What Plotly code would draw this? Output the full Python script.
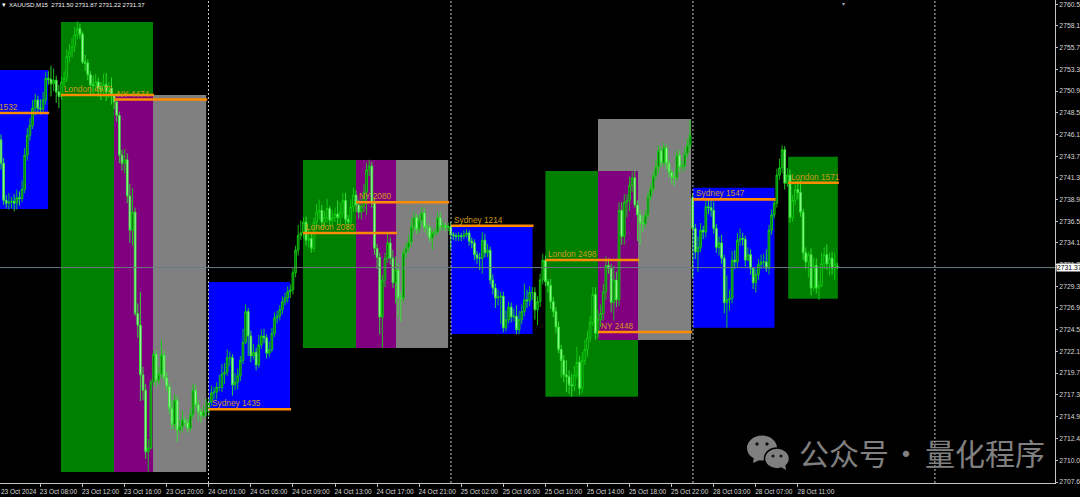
import plotly.graph_objects as go

bar_open = [
2745.5,2742.9,2738.8,2738.5,2738.6,2738.7,2738.5,2739.1,2739.0,2740.0,
2743.8,2746.0,2747.1,2749.0,2749.9,2749.0,2748.9,2749.9,2752.3,2752.2,
2751.7,2752.1,2750.8,2750.3,2751.9,2752.3,2754.7,2755.2,2755.8,2757.1,
2757.8,2757.2,2754.1,2754.0,2752.7,2751.6,2751.5,2751.9,2751.2,2751.0,
2751.6,2750.8,2751.2,2750.5,2749.7,2748.2,2743.8,2742.9,2743.3,2739.3,
2735.5,2737.5,2726.3,2725.0,2719.5,2717.8,2711.0,2711.4,2718.7,2721.8,
2718.9,2719.6,2721.7,2719.2,2718.2,2715.8,2714.0,2716.7,2713.4,2713.8,
2714.5,2714.2,2713.6,2715.1,2717.8,2716.2,2715.4,2715.0,2715.4,2715.5,
2716.5,2717.5,2717.6,2718.1,2718.1,2719.6,2719.8,2721.4,2721.4,2718.4,
2718.7,2719.4,2721.1,2723.1,2726.5,2723.8,2721.6,2722.0,2720.6,2722.8,
2723.8,2723.6,2721.9,2722.3,2724.1,2725.8,2726.0,2726.7,2727.6,2728.0,
2728.7,2728.9,2730.8,2733.3,2734.9,2735.2,2736.4,2734.4,2734.6,2733.5,
2736.4,2737.5,2737.7,2736.4,2736.9,2737.9,2736.6,2736.9,2737.3,2736.9,
2737.5,2738.8,2736.7,2736.4,2738.1,2739.4,2738.3,2737.5,2738.2,2739.7,
2742.2,2742.6,2738.5,2733.5,2732.5,2725.9,2730.0,2732.4,2734.1,2732.4,
2729.7,2731.1,2728.0,2728.0,2733.0,2733.6,2734.2,2735.9,2736.9,2735.6,
2736.6,2737.4,2735.8,2735.8,2734.6,2735.2,2735.3,2736.9,2735.9,2736.0,
2735.8,2735.9,2735.0,2734.9,2734.8,2734.9,2734.8,2735.0,2735.2,2734.3,
2734.1,2732.8,2732.4,2732.4,2734.4,2733.0,2733.3,2730.0,2729.1,2728.0,
2728.1,2728.2,2724.7,2725.6,2727.0,2725.9,2726.0,2724.5,2725.6,2726.5,
2727.8,2727.7,2728.6,2728.6,2726.7,2727.6,2730.0,2732.2,2729.8,2729.4,
2727.6,2726.5,2724.8,2722.3,2721.1,2719.5,2719.3,2718.4,2718.3,2719.5,
2720.9,2718.0,2721.1,2722.3,2723.6,2725.3,2728.4,2724.1,2725.6,2726.3,
2728.7,2731.6,2731.3,2727.5,2730.0,2727.8,2737.7,2734.8,2738.6,2738.8,
2740.5,2741.3,2738.3,2737.2,2736.3,2736.2,2737.2,2739.2,2740.1,2741.5,
2742.5,2744.3,2743.0,2744.6,2742.9,2741.9,2741.4,2741.3,2743.8,2742.5,
2742.6,2744.0,2744.9,2739.1,2735.7,2733.1,2733.6,2735.5,2735.3,2738.1,
2738.0,2737.7,2735.7,2733.6,2734.1,2732.4,2727.5,2727.8,2728.0,2732.2,
2732.0,2734.4,2734.6,2734.5,2732.2,2732.8,2731.3,2729.7,2730.6,2731.7,
2732.0,2732.0,2731.3,2735.5,2737.2,2738.5,2741.6,2742.4,2744.4,2740.7,
2741.6,2736.9,2738.8,2740.0,2739.7,2737.5,2733.0,2732.0,2732.8,2729.1,
2731.6,2729.1,2729.4,2731.8,2732.8,2731.8,2732.4,2731.3,2731.50]

bar_high = [
2746.1,2743.5,2739.4,2739.6,2739.2,2739.5,2740.0,2739.8,2741.0,2744.6,
2746.8,2747.9,2749.9,2750.6,2750.4,2750.0,2750.8,2753.0,2753.1,2753.7,
2753.4,2752.6,2751.6,2752.5,2753.1,2755.5,2756.1,2756.8,2758.0,2758.6,
2758.3,2757.5,2754.9,2754.4,2753.1,2752.6,2752.8,2752.4,2751.9,2752.8,
2752.9,2751.9,2752.4,2750.6,2749.9,2748.6,2744.4,2744.5,2744.0,2740.6,
2740.2,2738.0,2727.4,2728.7,2720.4,2718.5,2712.4,2719.0,2722.2,2722.2,
2720.4,2723.4,2722.2,2719.8,2718.6,2716.6,2717.4,2717.2,2714.6,2715.5,
2714.9,2714.6,2715.8,2718.5,2718.4,2716.8,2715.8,2716.2,2716.9,2717.0,
2718.3,2718.2,2718.7,2719.5,2720.7,2720.8,2722.3,2722.1,2721.8,2719.7,
2720.2,2721.6,2724.6,2727.3,2726.9,2724.4,2722.9,2722.5,2723.9,2724.5,
2724.6,2724.0,2723.2,2724.7,2726.4,2726.6,2727.2,2728.2,2728.6,2729.3,
2729.5,2731.3,2733.8,2736.1,2736.6,2736.9,2737.0,2735.6,2735.2,2736.9,
2738.4,2738.9,2738.3,2737.7,2739.0,2738.2,2737.7,2738.0,2738.8,2738.6,
2739.6,2739.6,2737.2,2738.9,2740.2,2739.9,2738.9,2739.0,2740.6,2743.0,
2743.3,2743.1,2739.0,2734.0,2733.0,2730.6,2733.0,2735.2,2734.7,2733.3,
2732.6,2731.8,2728.7,2733.4,2734.1,2735.0,2736.8,2737.6,2737.3,2737.3,
2738.1,2737.9,2736.3,2736.1,2735.7,2735.7,2737.6,2737.5,2736.5,2736.3,
2736.3,2736.4,2735.3,2735.2,2735.3,2735.2,2735.5,2735.6,2735.5,2734.7,
2734.5,2733.2,2733.0,2735.3,2735.1,2734.0,2733.7,2730.6,2729.6,2728.9,
2728.7,2728.7,2726.6,2727.6,2727.5,2726.8,2727.2,2726.6,2727.3,2729.6,
2728.9,2729.3,2729.2,2729.2,2728.2,2730.7,2732.9,2732.7,2730.1,2730.1,
2728.1,2727.0,2725.4,2722.8,2721.7,2721.1,2720.0,2719.6,2720.5,2722.6,
2721.6,2722.0,2723.4,2724.4,2726.0,2729.2,2729.2,2726.7,2727.3,2729.6,
2732.6,2732.4,2731.8,2731.6,2730.9,2738.6,2738.6,2739.5,2739.5,2741.4,
2742.0,2742.1,2738.8,2737.7,2737.1,2737.7,2739.7,2740.7,2742.1,2743.3,
2744.9,2744.8,2745.2,2745.0,2743.3,2742.2,2742.0,2744.4,2744.3,2743.2,
2744.7,2745.6,2747.7,2739.6,2736.2,2734.8,2736.3,2736.0,2738.9,2738.9,
2738.9,2738.7,2736.2,2734.8,2735.0,2732.8,2730.5,2728.9,2733.2,2733.3,
2735.2,2735.7,2735.2,2734.9,2733.6,2733.4,2730.3,2731.2,2732.3,2732.8,
2732.9,2733.4,2736.1,2737.8,2739.0,2742.3,2743.4,2744.9,2744.8,2742.4,
2742.2,2739.4,2740.6,2741.0,2741.1,2737.9,2733.6,2733.1,2733.5,2732.5,
2732.4,2729.9,2733.0,2733.6,2733.9,2733.0,2733.1,2733.0,2731.87]

bar_low = [
2742.2,2738.3,2737.9,2737.8,2737.9,2737.6,2737.8,2738.2,2738.6,2739.6,
2743.2,2745.4,2746.7,2748.2,2748.4,2748.3,2748.4,2749.4,2751.6,2750.3,
2750.9,2749.6,2749.0,2749.9,2751.3,2751.9,2754.1,2754.6,2755.2,2756.6,
2756.7,2753.9,2753.1,2752.1,2750.5,2750.6,2750.8,2750.3,2749.9,2750.3,
2749.8,2750.1,2749.4,2748.9,2747.5,2742.9,2742.1,2741.8,2738.5,2734.1,
2733.8,2726.0,2723.6,2716.6,2716.7,2710.2,2708.8,2711.2,2718.3,2718.2,
2718.5,2719.2,2718.8,2717.7,2715.2,2713.5,2713.5,2712.1,2713.0,2713.2,
2713.7,2713.1,2713.3,2714.7,2715.8,2714.4,2714.2,2714.7,2714.9,2714.9,
2716.1,2716.8,2716.8,2717.7,2717.6,2718.5,2719.4,2720.5,2717.2,2717.8,
2717.9,2718.8,2720.7,2722.9,2721.6,2720.9,2721.2,2720.0,2720.3,2722.4,
2723.0,2721.3,2721.5,2722.0,2723.7,2725.2,2725.5,2726.2,2727.2,2727.5,
2728.0,2728.4,2730.3,2732.7,2734.4,2734.6,2733.8,2733.6,2733.0,2733.1,
2735.7,2736.7,2735.7,2735.8,2736.3,2735.9,2736.0,2736.4,2736.2,2736.1,
2736.9,2736.1,2735.6,2735.9,2737.5,2737.5,2736.8,2736.7,2737.5,2737.2,
2741.5,2738.0,2732.8,2731.2,2724.0,2722.5,2729.2,2731.9,2731.7,2729.1,
2727.4,2725.9,2725.4,2727.5,2732.4,2733.1,2733.7,2735.2,2735.1,2735.2,
2736.0,2735.3,2734.9,2734.2,2733.3,2734.8,2735.0,2735.4,2735.5,2735.4,
2735.4,2733.4,2734.4,2734.3,2734.3,2734.3,2734.5,2734.7,2733.8,2733.5,
2732.2,2731.8,2731.1,2730.7,2732.5,2732.5,2729.5,2728.4,2726.9,2727.2,
2725.1,2724.2,2724.3,2725.2,2725.3,2725.4,2724.0,2724.0,2725.1,2726.0,
2726.9,2727.1,2727.8,2725.6,2725.0,2727.0,2729.5,2729.3,2728.6,2726.8,
2725.9,2724.1,2721.9,2719.2,2718.7,2717.6,2717.4,2717.1,2717.7,2719.1,
2717.3,2717.5,2720.6,2721.5,2723.1,2724.9,2723.4,2723.6,2724.8,2725.5,
2727.8,2730.7,2726.4,2725.5,2727.0,2727.1,2733.9,2733.9,2736.9,2737.6,
2739.7,2738.0,2734.3,2733.9,2735.3,2735.7,2736.8,2738.8,2739.6,2741.0,
2741.8,2742.5,2742.5,2742.2,2741.3,2740.7,2740.4,2741.0,2741.9,2741.9,
2742.1,2743.5,2744.3,2730.2,2732.3,2730.9,2733.1,2734.5,2734.7,2737.3,
2737.0,2735.1,2733.0,2732.7,2731.8,2726.3,2724.7,2726.6,2727.4,2731.2,
2731.4,2733.8,2733.8,2731.5,2732.1,2730.6,2729.0,2728.6,2730.0,2731.2,
2731.3,2730.9,2730.6,2735.0,2736.8,2738.0,2741.1,2741.8,2740.0,2740.3,
2736.3,2736.4,2738.3,2738.9,2737.0,2732.2,2731.2,2730.3,2728.3,2728.8,
2728.5,2727.8,2729.2,2731.2,2731.1,2730.5,2730.6,2730.0,2731.22]

bar_close = [
2742.9,2738.8,2738.5,2738.6,2738.7,2738.5,2739.1,2739.0,2740.0,2743.8,
2746.0,2747.1,2749.0,2749.9,2749.0,2748.9,2749.9,2752.3,2752.2,2751.7,
2752.1,2750.8,2750.3,2751.9,2752.3,2754.7,2755.2,2755.8,2757.1,2757.8,
2757.2,2754.1,2754.0,2752.7,2751.6,2751.5,2751.9,2751.2,2751.0,2751.6,
2750.8,2751.2,2750.5,2749.7,2748.2,2743.8,2742.9,2743.3,2739.3,2735.5,
2737.5,2726.3,2725.0,2719.5,2717.8,2711.0,2711.4,2718.7,2721.8,2718.9,
2719.6,2721.7,2719.2,2718.2,2715.8,2714.0,2716.7,2713.4,2713.8,2714.5,
2714.2,2713.6,2715.1,2717.8,2716.2,2715.4,2715.0,2715.4,2715.5,2716.5,
2717.5,2717.6,2718.1,2718.1,2719.6,2719.8,2721.4,2721.4,2718.4,2718.7,
2719.4,2721.1,2723.1,2726.5,2723.8,2721.6,2722.0,2720.6,2722.8,2723.8,
2723.6,2721.9,2722.3,2724.1,2725.8,2726.0,2726.7,2727.6,2728.0,2728.7,
2728.9,2730.8,2733.3,2734.9,2735.2,2736.4,2734.4,2734.6,2733.5,2736.4,
2737.5,2737.7,2736.4,2736.9,2737.9,2736.6,2736.9,2737.3,2736.9,2737.5,
2738.8,2736.7,2736.4,2738.1,2739.4,2738.3,2737.5,2738.2,2739.7,2742.2,
2742.6,2738.5,2733.5,2732.5,2725.9,2730.0,2732.4,2734.1,2732.4,2729.7,
2731.1,2728.0,2728.0,2733.0,2733.6,2734.2,2735.9,2736.9,2735.6,2736.6,
2737.4,2735.8,2735.8,2734.6,2735.2,2735.3,2736.9,2735.9,2736.0,2735.8,
2735.9,2735.0,2734.9,2734.8,2734.9,2734.8,2735.0,2735.2,2734.3,2734.1,
2732.8,2732.4,2732.4,2734.4,2733.0,2733.3,2730.0,2729.1,2728.0,2728.1,
2728.2,2724.7,2725.6,2727.0,2725.9,2726.0,2724.5,2725.6,2726.5,2727.8,
2727.7,2728.6,2728.6,2726.7,2727.6,2730.0,2732.2,2729.8,2729.4,2727.6,
2726.5,2724.8,2722.3,2721.1,2719.5,2719.3,2718.4,2718.3,2719.5,2720.9,
2718.0,2721.1,2722.3,2723.6,2725.3,2728.4,2724.1,2725.6,2726.3,2728.7,
2731.6,2731.3,2727.5,2730.0,2727.8,2737.7,2734.8,2738.6,2738.8,2740.5,
2741.3,2738.3,2737.2,2736.3,2736.2,2737.2,2739.2,2740.1,2741.5,2742.5,
2744.3,2743.0,2744.6,2742.9,2741.9,2741.4,2741.3,2743.8,2742.5,2742.6,
2744.0,2744.9,2746.0,2735.7,2733.1,2733.6,2735.5,2735.3,2738.1,2738.0,
2737.7,2735.7,2733.6,2734.1,2732.4,2727.5,2727.8,2728.0,2732.2,2732.0,
2734.4,2734.6,2734.5,2732.2,2732.8,2731.3,2729.7,2730.6,2731.7,2732.0,
2732.0,2731.3,2735.5,2737.2,2738.5,2741.6,2742.4,2744.4,2740.7,2741.6,
2736.9,2738.8,2740.0,2739.7,2737.5,2733.0,2732.0,2732.8,2729.1,2731.6,
2729.1,2729.4,2731.8,2732.8,2731.8,2732.4,2731.3,2731.8,2731.37]

session_names = ["Sydney", "London", "NY", "Sydney", "London", "NY", "Sydney", "London", "NY", "Sydney", "London"]
session_sizes = [1532, 4972, 4474, 1435, 2080, 2080, 1214, 2498, 2448, 1547, 1571]
session_start = [-5, 22.8, 43.0, 78.9, 114.8, 135.0, 171.1, 207.0, 227.0, 263.1, 299.3]
session_end = [17.9, 57.8, 78.0, 109.9, 150.2, 170.0, 202.1, 242.2, 262.4, 294.1, 318.2]
session_top = [2753.23, 2758.54, 2750.46, 2729.78, 2743.27, 2743.27, 2736.0, 2742.05, 2747.81, 2740.21, 2743.64]
session_bottom = [2737.85, 2708.76, 2708.76, 2715.73, 2722.47, 2722.47, 2724.02, 2717.09, 2723.36, 2724.72, 2727.93]
session_level = [2748.47, 2750.46, 2749.96, 2715.70, 2735.20, 2738.59, 2736.0, 2732.21, 2724.25, 2738.92, 2740.76]

first_date_label = "23 Oct 2024"
time_bars = [15, 31, 47, 63, 79, 95, 111, 127, 143, 159, 175, 191, 207, 223, 239, 255, 271, 287, 303]
time_labels = ["23 Oct 08:00", "23 Oct 12:00", "23 Oct 16:00", "23 Oct 20:00",
               "24 Oct 01:00", "24 Oct 05:00", "24 Oct 09:00", "24 Oct 13:00", "24 Oct 17:00",
               "24 Oct 21:00", "25 Oct 02:00", "25 Oct 06:00", "25 Oct 10:00", "25 Oct 14:00",
               "25 Oct 18:00", "25 Oct 22:00", "28 Oct 03:00", "28 Oct 07:00", "28 Oct 11:00"]
price_ticks = [2760.50, 2758.10, 2755.70, 2753.30, 2750.90, 2748.50, 2746.10, 2743.70, 2741.30,
               2738.90, 2736.50, 2734.10, 2731.70, 2729.30, 2726.90, 2724.50, 2722.10, 2719.70,
               2717.30, 2714.90, 2712.45, 2710.05, 2707.65]
day_separators = [78.9, 171.1, 263.1, 355.1]
last_price = 2731.37

COLORS = {"Sydney": "#0000ff", "London": "#008000", "NY": "#808080"}
LABEL = "#d09a1c"
ORANGE = "#ff8c00"
W, H = 1080, 497
ML, MR, MT, MB = 0, 25, 0, 14
PW, PH = W - ML - MR, H - MT - MB

shapes, annotations = [], []

def rect(x0, x1, y0, y1, color):
    shapes.append(dict(type="rect", layer="below", xref="x", yref="y", x0=x0, x1=x1, y0=y0, y1=y1,
                       fillcolor=color, line_width=0))

for i, n in enumerate(session_names):
    rect(session_start[i], session_end[i], session_bottom[i], session_top[i], COLORS[n])
# NY painted over London blends to purple where the two boxes meet
for i, n in enumerate(session_names):
    if n == "NY":
        j = i - 1
        rect(session_start[i], session_end[j], max(session_bottom[i], session_bottom[j]),
             min(session_top[i], session_top[j]), "#800080")

for i, n in enumerate(session_names):
    shapes.append(dict(type="line", layer="above", xref="x", yref="y",
                       x0=session_start[i], x1=session_end[i] + 0.4,
                       y0=session_level[i], y1=session_level[i], line=dict(color=ORANGE, width=2.6)))
    text = f"{n} {session_sizes[i]}"
    if session_start[i] < 0:
        annotations.append(dict(x=7.2, y=session_level[i], xref="x", yref="y", text=text, showarrow=False,
                                xanchor="right", yanchor="bottom", yshift=-1,
                                font=dict(family="Liberation Sans", size=8.3, color=LABEL)))
    else:
        annotations.append(dict(x=session_start[i], y=session_level[i], xref="x", yref="y", text=text,
                                showarrow=False, xanchor="left", yanchor="bottom", xshift=1, yshift=-1,
                                font=dict(family="Liberation Sans", size=8.3, color=LABEL)))

shapes.append(dict(type="line", layer="above", xref="paper", yref="y", x0=0, x1=1, y0=last_price, y1=last_price,
                   line=dict(color="#6d7a82", width=1)))
for s in day_separators:
    shapes.append(dict(type="line", layer="above", xref="x", yref="paper", x0=s, x1=s, y0=0, y1=1,
                       line=dict(color="#c4c4c4", width=1, dash="2px,2px")))

tick_size = 6.8
annotations.append(dict(xref="paper", yref="y", x=1, y=last_price, text="2731.37", showarrow=False, xanchor="left",
                        yanchor="middle", xshift=1, bgcolor="#ffffff", borderpad=0, width=24, align="left",
                        font=dict(family="Liberation Sans", size=tick_size, color="#000000")))
annotations.append(dict(xref="paper", yref="paper", x=0, y=1, xanchor="left", yanchor="top", yshift=1, xshift=0,
                        text="\u25be", showarrow=False, font=dict(family="DejaVu Sans", size=7, color="#ffffff")))
annotations.append(dict(xref="paper", yref="paper", x=0, y=1, xanchor="left", yanchor="top", xshift=7, yshift=1,
                        text="XAUUSD,M15&nbsp;&nbsp;2731.50 2731.87 2731.22 2731.37", showarrow=False,
                        font=dict(family="Liberation Sans", size=6.1, color="#f0f0f0")))
annotations.append(dict(xref="paper", yref="paper", x=843/PW, y=1, xanchor="center", yanchor="top", yshift=2,
                        text="\u25be", showarrow=False, font=dict(family="DejaVu Sans", size=6, color="#9aa5b5")))
annotations.append(dict(xref="paper", yref="paper", x=0, y=0, xanchor="left", yanchor="top", xshift=-1, yshift=-3,
                        text=first_date_label, showarrow=False,
                        font=dict(family="Liberation Sans", size=6.5, color="#d8d8d8")))

# WeChat-style watermark
WM = "#808080"
def px(x):
    return x / PW
def py(y):
    return 1 - y / PH
def oval(cx, cy, rx, ry, fill, line=None):
    shapes.append(dict(type="circle", layer="above", xref="paper", yref="paper",
                       x0=px(cx-rx), x1=px(cx+rx), y0=py(cy+ry), y1=py(cy-ry), fillcolor=fill,
                       line=dict(color=line or fill, width=1.5 if line else 0)))
def tail(points):
    d = "M " + " L ".join(f"{px(a)} {py(b)}" for a, b in points) + " Z"
    shapes.append(dict(type="path", layer="above", xref="paper", yref="paper", path=d, fillcolor=WM, line_width=0))
oval(762, 448, 15, 12.5, WM)
tail([(754, 457), (753, 463), (762, 459)])
oval(777, 458.5, 12.5, 10.5, WM, "#000000")
tail([(781, 467), (786, 470), (785, 463)])
for cx, cy, r in [(757, 444, 1.7), (767, 444, 1.7), (773, 456, 1.5), (781, 456, 1.5)]:
    oval(cx, cy, r, r, "#111111")
for wm_text, wm_x in [("公众号", 844), ("·", 906), ("量化程序", 985)]:
    annotations.append(dict(xref="paper", yref="paper", x=px(wm_x), y=py(452), text=wm_text, showarrow=False,
                            xanchor="center", yanchor="middle",
                            font=dict(family="Noto Sans CJK SC", size=30, color=WM)))

fig = go.Figure(go.Candlestick(
    x=list(range(len(bar_close))), open=bar_open, high=bar_high, low=bar_low, close=bar_close,
    increasing=dict(line=dict(color="#12d012", width=0.9), fillcolor="#006a00"),
    decreasing=dict(line=dict(color="#30e830", width=0.9), fillcolor="#b8ffb8"),
    whiskerwidth=0, showlegend=False, hoverinfo="skip"))

tick_font = dict(family="Liberation Sans", size=tick_size, color="#d8d8d8")
fig.update_layout(
    width=W, height=H, margin=dict(l=ML, r=MR, t=MT, b=MB, pad=0), autosize=False,
    paper_bgcolor="#000000", plot_bgcolor="#000000", showlegend=False, boxgap=0.08,
    shapes=shapes, annotations=annotations,
    xaxis=dict(range=[-0.38, PW / 2.63 - 0.38], rangeslider=dict(visible=False), showgrid=False, zeroline=False,
               tickmode="array", tickvals=time_bars, ticktext=time_labels, ticks="outside", ticklen=3, tickwidth=1,
               tickcolor="#bbbbbb", ticklabelshift=18, ticklabelstandoff=-1,
               tickfont=dict(family="Liberation Sans", size=6.5, color="#d8d8d8"),
               showline=True, linecolor="#c4c4c4", linewidth=1, automargin=False, tickangle=0),
    yaxis=dict(range=[2760.97 - PH / 9.04, 2760.97], side="right", showgrid=False, zeroline=False,
               tickmode="array", tickvals=price_ticks, ticktext=[f"{p:.2f}" for p in price_ticks], ticks="outside",
               ticklen=2, tickwidth=1, tickcolor="#bbbbbb", tickfont=tick_font, showline=True, linecolor="#c4c4c4",
               linewidth=1, automargin=False),
)
fig.write_html("out.html", config=dict(displayModeBar=False),
               post_script="document.body.style.margin='0';document.body.style.background='#000';document.documentElement.style.overflow='hidden';")
